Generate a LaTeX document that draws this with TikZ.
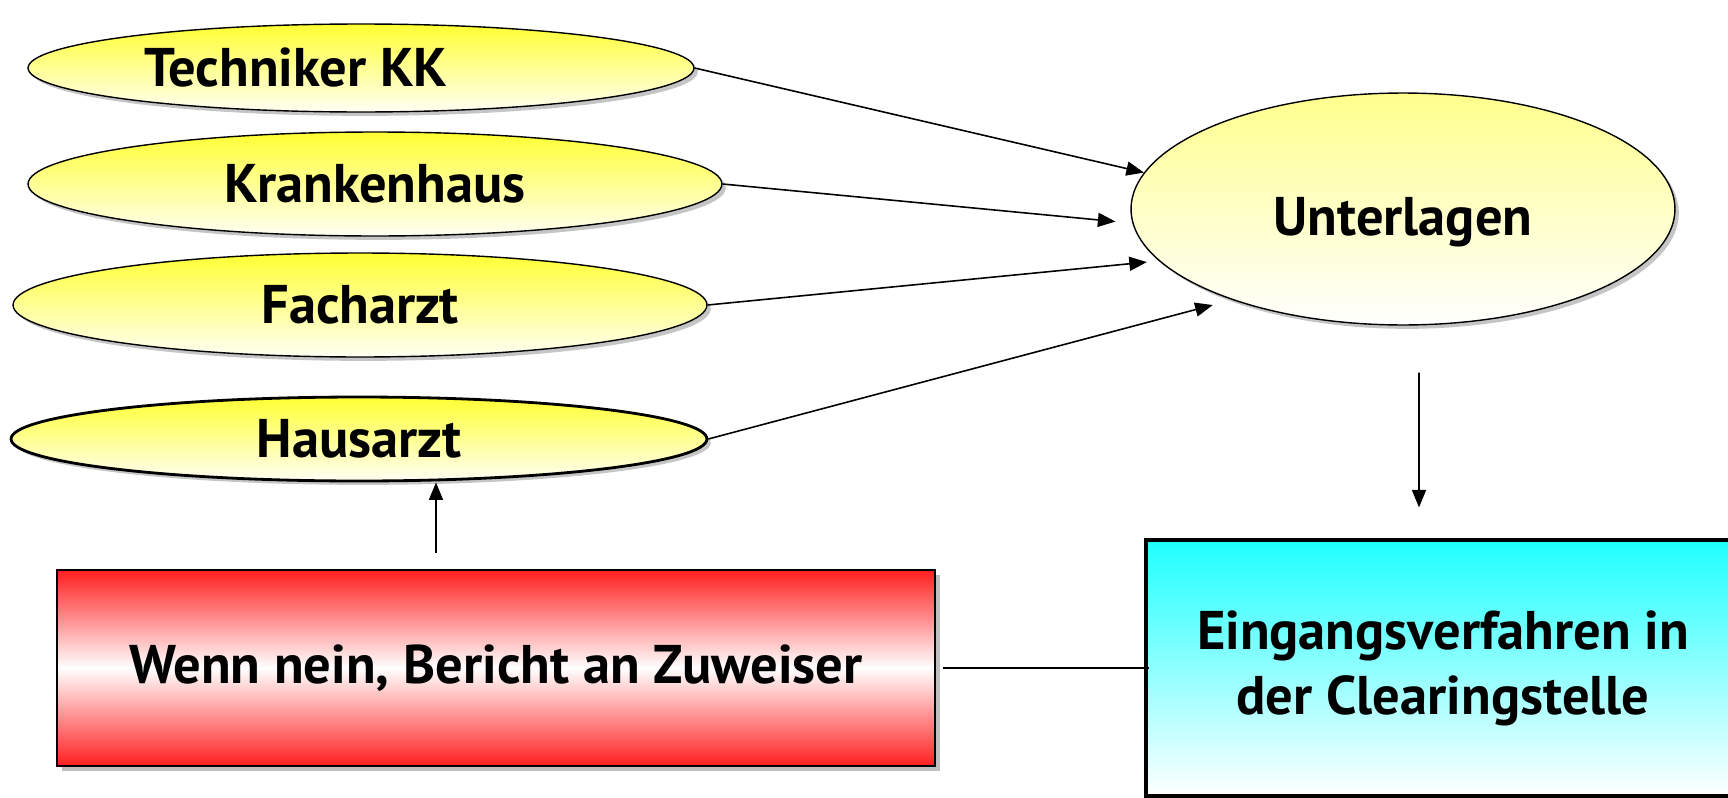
\documentclass[tikz,border=0pt]{standalone}
\usepackage{fontspec}
\setmainfont{PT Sans}
\usetikzlibrary{shapes.geometric,shadows,arrows.meta}
\begin{document}
\begin{tikzpicture}[x=0.02cm,y=-0.02cm,
  schrift/.style={font=\fontsize{31}{37}\selectfont\bfseries, align=center},
  quelle/.style={schrift, draw, ellipse, line width=0.8pt, inner sep=0pt,
    top color=yellow!80!white, bottom color=yellow!4!white,
    drop shadow={shadow xshift=2.2pt, shadow yshift=-2.2pt, fill=black!45}},
  pfeil/.style={draw, line width=0.9pt, -{Triangle[length=10pt,width=8pt]}}]
\useasboundingbox (0,0) rectangle (1728,798);
\node[quelle, minimum width=13.32cm, minimum height=1.76cm] (1) at (361,68) {Techniker KK\hspace*{2.6cm}};
\node[quelle, minimum width=13.88cm, minimum height=2.08cm] (2) at (375,184) {Krankenhaus};
\node[quelle, minimum width=13.88cm, minimum height=2.08cm] (3) at (360,305) {Facharzt};
\node[quelle, minimum width=13.92cm, minimum height=1.68cm, line width=1.6pt] (4) at (359,439) {Hausarzt};
\node[quelle, minimum width=10.88cm, minimum height=4.64cm,
  top color=yellow!45!white, bottom color=white] (5) at (1403,209) {\raisebox{-0.15cm}[\height][0pt]{Unterlagen}};
\node[schrift, draw, line width=1.2pt, minimum width=17.56cm, minimum height=3.92cm,
  top color=red!88!white, bottom color=red!88!white, middle color=white,
  drop shadow={shadow xshift=2.8pt, shadow yshift=-2.8pt, fill=black!50}] (6) at (496,668) {Wenn nein, Bericht an Zuweiser};
\node[schrift, draw, line width=1.8pt, minimum width=11.88cm, minimum height=5.12cm,
  top color=cyan!88!white, bottom color=white] (7) at (1443,668) {Eingangsverfahren in\\der Clearingstelle};
\path[pfeil] (1.east) -- (5.172);
\path[pfeil,shorten >=0.34cm] (2.east) -- (5.183);
\path[pfeil,shorten >=0.24cm] (3.east) -- (5.192);
\path[pfeil,shorten >=0.4cm] (4.east) -- (5.208);
\path[pfeil,shorten <=0.94cm,shorten >=0.62cm] ([xshift=0.32cm]5.south) -- ([xshift=-0.48cm]7.north);
\path[pfeil,shorten <=0.32cm] ([xshift=-1.2cm]6.north) -- ([xshift=1.54cm]4.south);
\path[draw,line width=0.9pt,-,shorten <=0.14cm,shorten >=-0.1cm] (6.east) -- (7.west);
\end{tikzpicture}
\end{document}
